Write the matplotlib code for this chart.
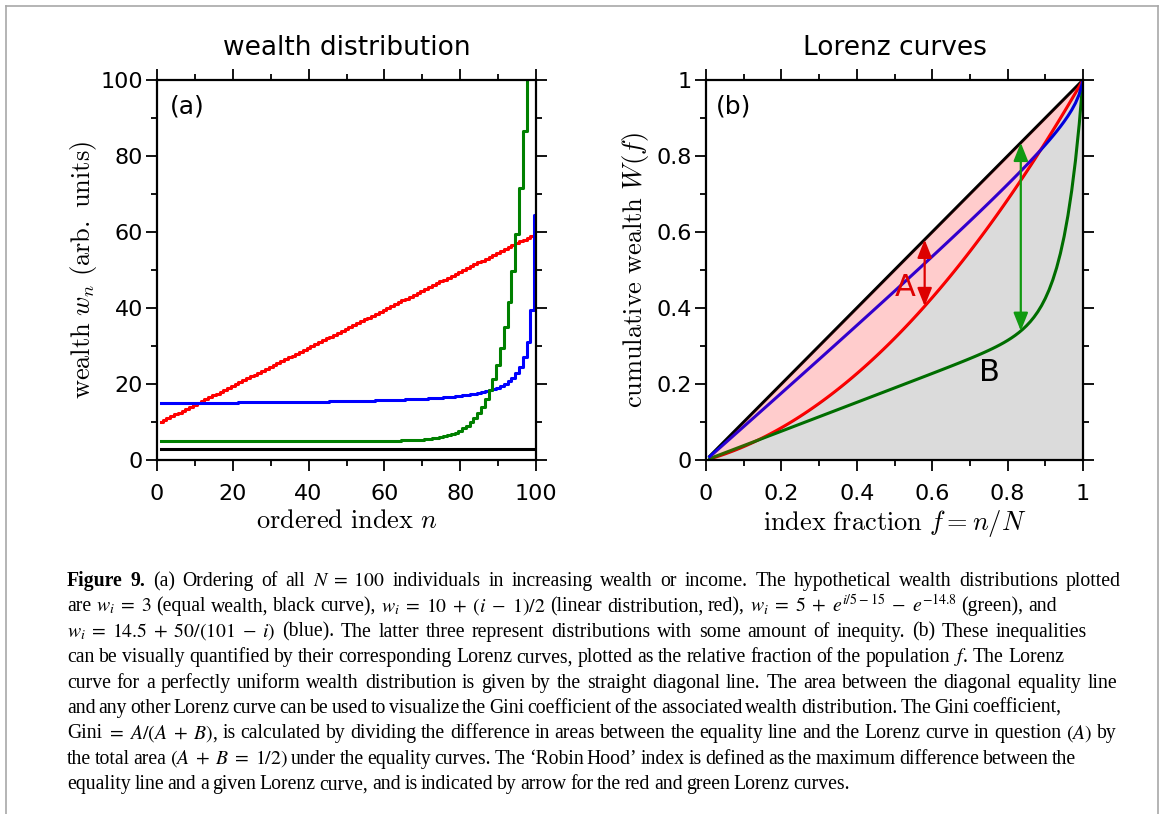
import re
import numpy as np
import matplotlib
matplotlib.use("Agg")
import matplotlib.pyplot as plt
from matplotlib.lines import Line2D
from matplotlib.ticker import MultipleLocator, FuncFormatter

W, H = 1165, 814

# N individuals ordered by wealth, distributions as defined in the caption
N = 100
idx = np.arange(1, N + 1)
w_equal = np.full(N, 3.0)
w_linear = 10 + (idx - 1) / 2
w_exp = 5 + np.exp(idx / 5 - 15) - np.exp(-14.8)
w_inv = 14.5 + 50 / (101 - idx)

# positions of the 'Robin Hood' arrows (index fraction)
robin_red_x = 0.58
robin_green_x = 0.835

caption_lines = [
    r"Figure 9.  (a) Ordering of all $N\;=\;100$ individuals in increasing wealth or income. The hypothetical wealth distributions plotted",
    r"are $w_i\;=\;3$ (equal wealth, black curve), $w_i\;=\;10\;+\;(i\;-\;1)/2$ (linear distribution, red), $w_i\;=\;5\;+\;e^{i/5-15}\;-\;e^{-14.8}$ (green), and",
    r"$w_i\;=\;14.5\;+\;50/(101\;-\;i)$ (blue). The latter three represent distributions with some amount of inequity. (b) These inequalities",
    r"can be visually quantified by their corresponding Lorenz curves, plotted as the relative fraction of the population $f$. The Lorenz",
    r"curve for a perfectly uniform wealth distribution is given by the straight diagonal line. The area between the diagonal equality line",
    r"and any other Lorenz curve can be used to visualize the Gini coefficient of the associated wealth distribution. The Gini coefficient,",
    r"Gini $=\;A/(A\;+\;B)$, is calculated by dividing the difference in areas between the equality line and the Lorenz curve in question $(A)$ by",
    "the total area $(A\\;+\\;B\\;=\\;1/2)$ under the equality curves. The \u2018Robin Hood\u2019 index is defined as the maximum difference between the",
    r"equality line and a given Lorenz curve, and is indicated by arrow for the red and green Lorenz curves.",
]
# right edge of each caption line (pixels)
caption_right = [1121, 1057, 1087, 1064, 1117, 1061, 1117, 1076, 850]
caption_left = 67
caption_base0 = 586
caption_step = 25.4


def lorenz(w):
    return np.cumsum(w) / np.sum(w)


f = idx / N
L_equal = lorenz(w_equal)
L_linear = lorenz(w_linear)
L_exp = lorenz(w_exp)
L_inv = lorenz(w_inv)

fig = plt.figure(figsize=(W / 100, H / 100), dpi=100)
ax1 = fig.add_axes([157 / W, 1 - 460 / H, 379 / W, 380 / H])
ax2 = fig.add_axes([706 / W, 1 - 460 / H, 377 / W, 380 / H])

lw = 2.2
# (a) wealth distribution
ax1.plot(idx, w_equal, drawstyle="steps-mid", color="black", lw=lw)
ax1.plot(idx, w_linear, drawstyle="steps-mid", color="red", lw=lw)
ax1.plot(idx, w_inv, drawstyle="steps-mid", color="blue", lw=lw)
ax1.plot(idx, w_exp, drawstyle="steps-mid", color="green", lw=lw)
ax1.set_xlim(0, 100)
ax1.set_ylim(0, 100)
ax1.xaxis.set_major_locator(MultipleLocator(20))
ax1.xaxis.set_minor_locator(MultipleLocator(10))
ax1.yaxis.set_major_locator(MultipleLocator(20))
ax1.yaxis.set_minor_locator(MultipleLocator(10))
ax1.set_title("wealth distribution", fontsize=19, pad=18)
ax1.set_xlabel(r"$\mathrm{ordered\ index}\ n$", fontsize=19, math_fontfamily="cm", labelpad=3)
ax1.set_ylabel(r"$\mathrm{wealth}\ w_n\ \mathrm{(arb.\ units)}$", fontsize=19,
               math_fontfamily="cm", labelpad=1)
ax1.text(0.035, 0.93, "(a)", transform=ax1.transAxes, fontsize=18, va="center")

# (b) Lorenz curves
ax2.plot(f, L_equal, color="black", lw=lw, zorder=2)
ax2.plot(f, L_linear, color="red", lw=lw, zorder=2)
ax2.plot(f, L_exp, color="green", lw=lw, zorder=2)
ax2.plot(f, L_inv, color="blue", lw=lw, zorder=2)
ax2.fill_between(f, L_equal, L_linear, color="red", alpha=0.2, lw=0, zorder=3)
ax2.fill_between(f, 0, L_linear, color="black", alpha=0.14, lw=0, zorder=3)

arrow_kw = dict(arrowstyle="<|-|>,head_length=0.55,head_width=0.22",
                mutation_scale=20, shrinkA=0, shrinkB=0, lw=1.6)
y_lo = np.interp(robin_red_x, f, L_linear)
ax2.annotate("", xy=(robin_red_x, robin_red_x), xytext=(robin_red_x, y_lo),
             arrowprops=dict(color="#dd0000", **arrow_kw), zorder=5)
y_lo = np.interp(robin_green_x, f, L_exp)
ax2.annotate("", xy=(robin_green_x, robin_green_x), xytext=(robin_green_x, y_lo),
             arrowprops=dict(color="#119911", **arrow_kw), zorder=5)
ax2.text(0.528, 0.455, "A", color="#dd0000", fontsize=22, ha="center", va="center", zorder=6)
ax2.text(0.753, 0.229, "B", color="black", fontsize=22, ha="center", va="center", zorder=6)

ax2.set_xlim(0, 1)
ax2.set_ylim(0, 1)
for axis in (ax2.xaxis, ax2.yaxis):
    axis.set_major_locator(MultipleLocator(0.2))
    axis.set_minor_locator(MultipleLocator(0.1))
    axis.set_major_formatter(FuncFormatter(lambda v, p: f"{v:g}"))
ax2.set_title("Lorenz curves", fontsize=19, pad=18)
ax2.set_xlabel(r"$\mathrm{index\ fraction}\ f = n/N$", fontsize=19, math_fontfamily="cm", labelpad=3)
ax2.set_ylabel(r"$\mathrm{cumulative\ wealth}\ W(f)$", fontsize=19, math_fontfamily="cm", labelpad=4)
ax2.text(0.025, 0.93, "(b)", transform=ax2.transAxes, fontsize=18, va="center")
ax2.spines["bottom"].set_zorder(4)

for ax in (ax1, ax2):
    ax.tick_params(which="both", direction="out", top=True, right=True, width=1.3)
    ax.tick_params(which="major", length=8, labelsize=16)
    ax.tick_params(which="minor", length=4.5)
    ax.tick_params(axis="x", which="major", pad=9)
    ax.tick_params(axis="y", which="major", pad=2)
    for s in ax.spines.values():
        s.set_linewidth(1.6)

# grey frame round the figure
frame = dict(transform=fig.transFigure, color="#a8a8a8", lw=1.2)
fig.add_artist(Line2D([6 / W, 6 / W], [0, 1 - 6 / H], **frame))
fig.add_artist(Line2D([6 / W, 1158 / W], [1 - 6 / H, 1 - 6 / H], **frame))
fig.add_artist(Line2D([1158 / W, 1158 / W], [1 - 6 / H, 0], **frame))

# caption, set word by word so each line ends where it should
renderer = fig.canvas.get_renderer()
tok_re = re.compile(r"(?:\$[^$]*\$|\S)+")


def make_word(tok, size, bold=False):
    return fig.text(0, 0, tok, fontsize=size, family="Liberation Serif",
                    fontweight="bold" if bold else "normal",
                    math_fontfamily="stix", va="baseline", ha="left")


def widths(texts):
    return [t.get_window_extent(renderer).width for t in texts]


# pick the font size that gives natural word spacing on average
base = 13.0
sp1 = make_word("a a", base)
sp0 = make_word("aa", base)
space = widths([sp1])[0] - widths([sp0])[0]
sp0.remove()
sp1.remove()
tot_words = 0.0
tot_gaps = 0
for k, line in enumerate(caption_lines):
    probe = [make_word(t, base, bold=(k == 0 and i < 2)) for i, t in enumerate(tok_re.findall(line))]
    tot_words += sum(widths(probe))
    tot_gaps += len(probe) - 1
    for t in probe:
        t.remove()
target = sum(r - caption_left for r in caption_right)
size = base * target / (tot_words + space * tot_gaps)

for k, line in enumerate(caption_lines):
    toks = tok_re.findall(line)
    texts = [make_word(t, size, bold=(k == 0 and i < 2)) for i, t in enumerate(toks)]
    ws = widths(texts)
    gap = (caption_right[k] - caption_left - sum(ws)) / (len(toks) - 1)
    x = caption_left
    y = 1 - (caption_base0 + k * caption_step) / H
    for t, w in zip(texts, ws):
        t.set_position((x / W, y))
        x += w + gap

fig.savefig("out.png", dpi=100)
